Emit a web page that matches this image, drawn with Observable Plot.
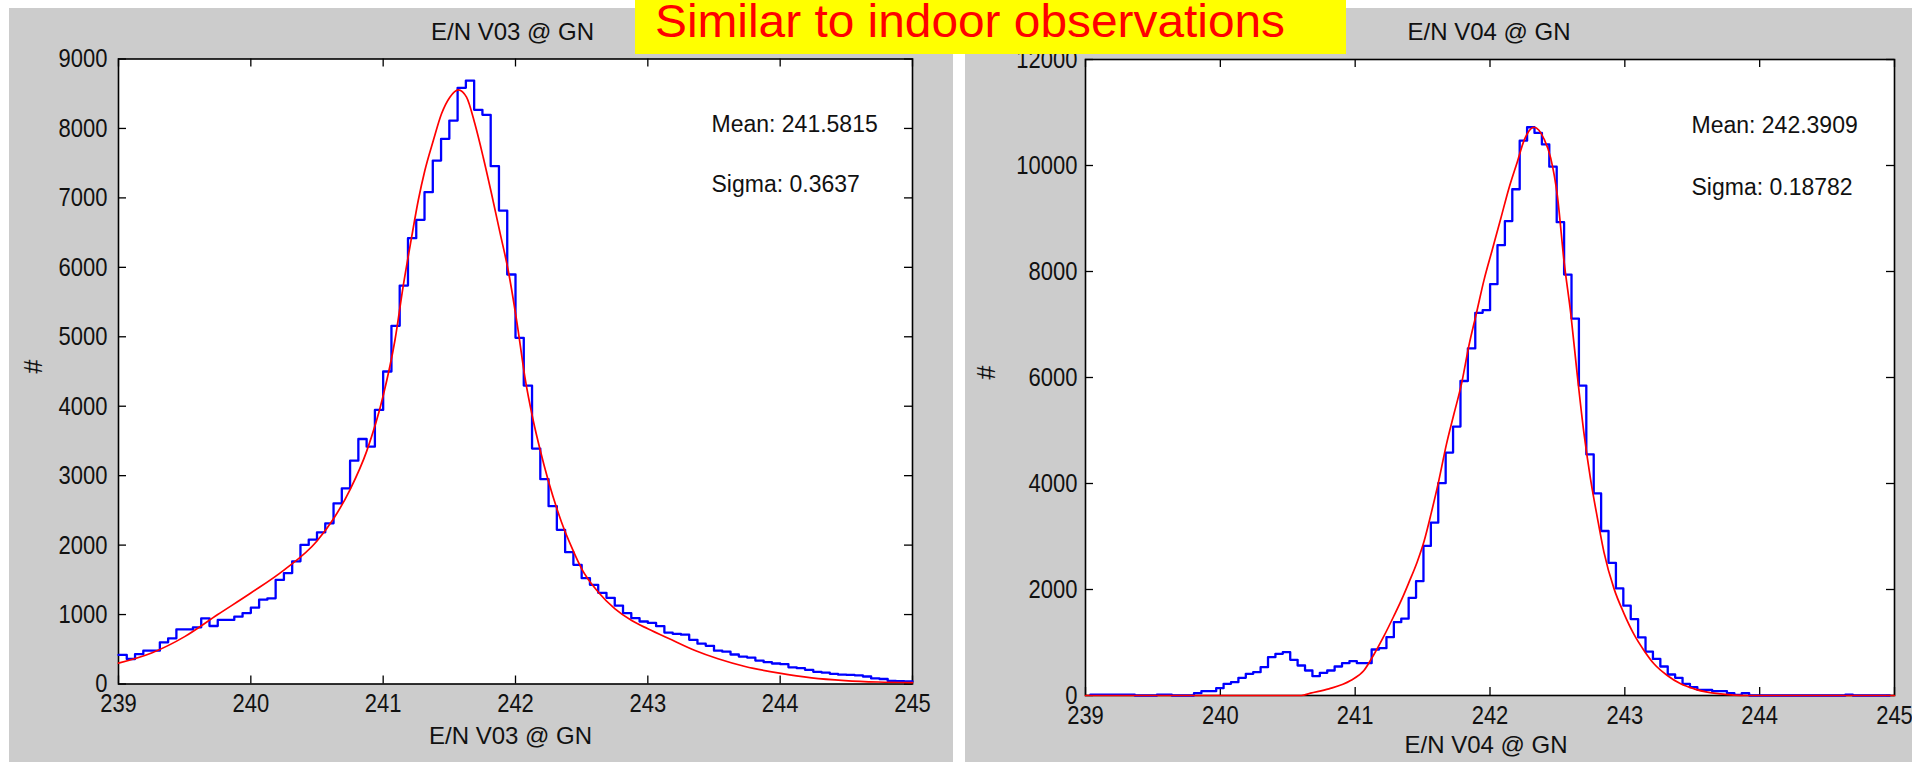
<!DOCTYPE html>
<html>
<head>
<meta charset="utf-8">
<script src="https://cdn.jsdelivr.net/npm/d3@7"></script>
<script src="https://cdn.jsdelivr.net/npm/@observablehq/plot@0.6"></script>
<style>
  html, body { margin: 0; padding: 0; background: #ffffff; }
  #page { position: relative; width: 1912px; height: 762px; overflow: hidden; background: #ffffff; }
  .panel { position: absolute; background: #cccccc; }
  .panel svg { display: block; overflow: visible; }
  #banner { position: absolute; left: 635px; top: 0; z-index: 5; }
</style>
</head>
<body>
<div id="page">
  <div id="left" class="panel" style="left:9px; top:8px; width:944px; height:754px;"></div>
  <div id="right" class="panel" style="left:965px; top:8px; width:947px; height:754px;"></div>
  <svg id="banner" width="711" height="54">
    <rect width="711" height="54" fill="#ffff00"></rect>
    <text x="20" y="37" font-family="Liberation Sans, Arial, sans-serif" font-size="46" fill="#ff0000"
          textLength="630" lengthAdjust="spacingAndGlyphs">Similar to indoor observations</text>
  </svg>
</div>
<script>
const FONT = "Liberation Sans, Arial, Helvetica, sans-serif";

// shared axis ticks
const xTicks = [239, 240, 241, 242, 243, 244, 245];
const v03YTicks = [0, 1000, 2000, 3000, 4000, 5000, 6000, 7000, 8000, 9000];
const v04YTicks = [0, 2000, 4000, 6000, 8000, 10000, 12000];

// E/N V03 histogram: bin edges start at 239, fixed bin width
const v03BinStart = 239;
const v03BinWidth = 0.0625;
const v03Counts = [
  418, 360, 430, 480, 480, 600, 658, 787, 787, 816,
  946, 835, 922, 922, 970, 1022, 1099, 1214, 1234, 1498,
  1598, 1766, 2002, 2078, 2184, 2314, 2602, 2818, 3216, 3528,
  3418, 3946, 4500, 5158, 5738, 6420, 6684, 7082, 7538, 7850,
  8114, 8585, 8690, 8268, 8196, 7457, 6818, 5897, 4985, 4298,
  3390, 2950, 2560, 2220, 1898, 1716, 1524, 1428, 1313, 1241,
  1130, 1020, 948, 900, 880, 832, 740, 723, 710, 636,
  580, 550, 480, 465, 425, 395, 380, 338, 314, 295,
  285, 240, 228, 204, 175, 165, 147, 135, 130, 125,
  108, 80, 72, 45, 40, 38
];
// E/N V03 fitted curve
const v03FitX = [239.0, 239.25, 239.5, 239.75, 240.0, 240.25, 240.5, 240.625, 240.75, 240.875,
  241.0, 241.089, 241.152, 241.215, 241.265, 241.315, 241.379, 241.441, 241.504, 241.568,
  241.63, 241.693, 241.756, 241.819, 241.882, 241.945, 242.02, 242.071, 242.134, 242.184,
  242.348, 242.424, 242.5, 242.626, 242.752, 242.878, 243.0, 243.18, 243.357, 243.53,
  243.735, 243.994, 244.238, 244.49, 244.74, 245.0];
const v03FitY = [300, 446, 682, 1000, 1310, 1640, 2060, 2380, 2800, 3350,
  4150, 4950, 5738, 6434, 6962, 7394, 7826, 8211, 8450, 8556,
  8450, 8067, 7586, 7059, 6506, 5954, 5090, 4418, 3794, 3387,
  2330, 1970, 1659, 1322, 1083, 914, 795, 636, 482, 363,
  252, 156, 89, 50, 29, 20];

// E/N V04 histogram
const v04BinStart = 239.036;
const v04BinWidth = 0.0549;
const v04Counts = [
  15, 15, 15, 15, 15, 15, 0, 0, 0, 15, 15, 0, 0, 0,
  44, 82, 82, 138, 220, 252, 333, 409, 440, 535,
  723, 786, 818, 673, 566, 472, 365, 428, 472, 547,
  610, 648, 610, 610, 868, 893, 1101, 1384, 1450, 1843,
  2158, 2822, 3260, 4006, 4584, 5074, 5934, 6548, 7220, 7270,
  7761, 8497, 8952, 9552, 10469, 10722, 10615, 10397, 9978, 8931,
  7942, 7112, 5848, 4548, 3812, 3104, 2504, 2021, 1695, 1442,
  1098, 829, 690, 547, 396, 333, 220, 157, 107, 107,
  82, 82, 44, 10, 44,
  0, 0, 0, 0, 0, 0, 0, 0, 0, 0, 0, 0, 0, 15, 0, 0, 0, 0, 0
];
// E/N V04 fitted curve
const v04FitX = [239.0, 240.6, 240.669, 240.805, 240.966, 241.065, 241.139, 241.213, 241.287, 241.36,
  241.398, 241.46, 241.51, 241.565, 241.62, 241.676, 241.732, 241.789, 241.844, 241.9,
  241.955, 242.017, 242.079, 242.14, 242.203, 242.252, 242.289, 242.326, 242.363, 242.4,
  242.45, 242.5, 242.549, 242.6, 242.648, 242.697, 242.746, 242.796, 242.845, 242.919,
  242.993, 243.068, 243.142, 243.216, 243.315, 243.414, 243.513, 243.612, 243.711, 243.81,
  243.9, 245.0];
const v04FitY = [0, 0, 44, 126, 283, 472, 774, 1120, 1500, 1900,
  2130, 2520, 2900, 3450, 4050, 4729, 5306, 5884, 6606, 7220,
  7833, 8411, 8990, 9567, 10073, 10469, 10650, 10722, 10665, 10505,
  10144, 9422, 8195, 7184, 6029, 4944, 4078, 3357, 2706, 2021,
  1551, 1153, 850, 598, 377, 220, 126, 63, 31, 8,
  0, 0];

const v03Title = "E/N V03 @ GN";
const v04Title = "E/N V04 @ GN";
const v03Stats = ["Mean: 241.5815", "Sigma: 0.3637"];
const v04Stats = ["Mean: 242.3909", "Sigma: 0.18782"];
const yLabel = "#";

// stairs outline of a fixed-width histogram
function stairs(start, width, counts) {
  const pts = counts.map((c, i) => ({x: start + i * width, y: c}));
  pts.push({x: start + counts.length * width, y: counts[counts.length - 1]});
  return pts;
}
function curve(xs, ys) {
  return xs.map((x, i) => ({x, y: ys[i]}));
}

// glyphs in the exported figure are a little taller than wide
function stretchY(svg, selector, k) {
  svg.querySelectorAll(selector).forEach((t) => {
    const tr = t.getAttribute("transform");
    if (tr) {
      t.setAttribute("transform", `${tr} scale(1,${k})`);
    } else {
      const x = +t.getAttribute("x") || 0, y = +t.getAttribute("y") || 0;
      t.setAttribute("transform", `translate(${x},${y}) scale(1,${k}) translate(${-x},${-y})`);
    }
  });
}

function panel(el, cfg) {
  const {width, height, m, yMax, yTicks, bins, fit, title, stats, yPad, xlabDy, xlabDx, titleDx, yLabDx, yLabDy, statDx, statDy} = cfg;
  const W = width - m.left - m.right;
  const H = height - m.top - m.bottom;
  const tick = 8;
  const svg = Plot.plot({
    width, height,
    marginLeft: m.left, marginRight: m.right, marginTop: m.top, marginBottom: m.bottom,
    style: {background: "transparent", fontFamily: FONT, fontSize: "22px", color: "#111", overflow: "visible"},
    x: {domain: [239, 245]},
    y: {domain: [0, yMax]},
    marks: [
      Plot.frame({fill: "#ffffff", stroke: "#000", strokeWidth: 1.6}),
      Plot.tickX(xTicks, {x: (d) => d, insetTop: H - tick, stroke: "#000", strokeWidth: 1.3}),
      Plot.tickX(xTicks, {x: (d) => d, insetBottom: H - tick, stroke: "#000", strokeWidth: 1.3}),
      Plot.tickY(yTicks, {y: (d) => d, insetRight: W - tick, stroke: "#000", strokeWidth: 1.3}),
      Plot.tickY(yTicks, {y: (d) => d, insetLeft: W - tick, stroke: "#000", strokeWidth: 1.3}),
      Plot.line(bins, {x: "x", y: "y", curve: "step-after", stroke: "#0000ff", strokeWidth: 2.3}),
      Plot.line(fit, {x: "x", y: "y", curve: "monotone-x", stroke: "#ff0000", strokeWidth: 1.7}),
      Plot.axisX(xTicks, {anchor: "bottom", tickSize: 0, tickPadding: 9.5, fontSize: 22, label: null, tickFormat: (d) => String(d), fill: "#111"}),
      Plot.axisY(yTicks, {anchor: "left", tickSize: 0, tickPadding: yPad, fontSize: 22, label: null, tickFormat: (d) => String(d), fill: "#111"}),
      Plot.text([title], {frameAnchor: "top", lineAnchor: "bottom", dy: -19.5, dx: titleDx, fontSize: 24, fill: "#111"}),
      Plot.text([title], {frameAnchor: "bottom", lineAnchor: "bottom", dy: xlabDy, dx: xlabDx, fontSize: 24, fill: "#111"}),
      Plot.text([yLabel], {frameAnchor: "left", rotate: -90, dx: yLabDx, dy: yLabDy, fontSize: 25, fill: "#111"}),
      Plot.text([stats[0]], {frameAnchor: "top-left", textAnchor: "start", lineAnchor: "bottom", dx: statDx, dy: statDy[0], fontSize: 23, fill: "#111", ariaLabel: "stats"}),
      Plot.text([stats[1]], {frameAnchor: "top-left", textAnchor: "start", lineAnchor: "bottom", dx: statDx, dy: statDy[1], fontSize: 23, fill: "#111", ariaLabel: "stats"})
    ]
  });
  stretchY(svg, 'g[aria-label="x-axis tick label"] text, g[aria-label="y-axis tick label"] text', 1.2);
  stretchY(svg, 'g[aria-label="stats"] text', 1.12);
  el.appendChild(svg);
}

panel(document.getElementById("left"), {
  width: 944, height: 754,
  m: {left: 109, right: 41, top: 50.5, bottom: 78.5},
  yMax: 9000, yTicks: v03YTicks,
  bins: stairs(v03BinStart, v03BinWidth, v03Counts),
  fit: curve(v03FitX, v03FitY),
  title: v03Title, stats: v03Stats,
  yPad: 11, titleDx: -3, xlabDy: 59.5, xlabDx: -5,
  yLabDx: -85, yLabDy: 2,
  statDx: 593, statDy: [72.5, 132.5]
});

panel(document.getElementById("right"), {
  width: 947, height: 754,
  m: {left: 120, right: 18, top: 51, bottom: 67},
  yMax: 12000, yTicks: v04YTicks,
  bins: stairs(v04BinStart, v04BinWidth, v04Counts),
  fit: curve(v04FitX, v04FitY),
  title: v04Title, stats: v04Stats,
  yPad: 8, titleDx: -1, xlabDy: 57, xlabDx: -4,
  yLabDx: -99, yLabDy: 2,
  statDx: 606, statDy: [73, 135]
});
</script>
</body>
</html>
